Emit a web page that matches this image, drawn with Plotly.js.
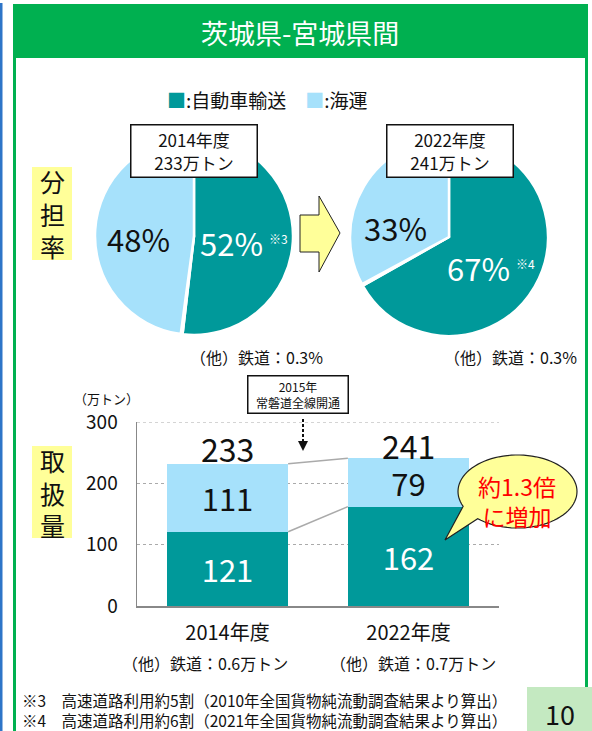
<!DOCTYPE html>
<html>
<head>
<meta charset="utf-8">
<script src="https://cdn.plot.ly/plotly-3.0.1.min.js"></script>
<style>
  body { margin: 0; background: #fff; }
  #chart { width: 592px; height: 731px; }
</style>
</head>
<body>
<div id="chart"></div>
<script>
// data
const pieYears = ["2014年度", "2022年度"];
const pieTotals = [233, 241];              // 万トン
const pieLabels = ["自動車輸送", "鉄道", "海運"];
const pie2014 = [52, 0.3, 48];             // %
const pie2022 = [67, 0.3, 33];
const pieNotes = ["※3", "※4"];

const barYears = ["2014年度", "2022年度"];
const truckTons = [121, 162];
const seaTons = [111, 79];
const barTotals = [233, 241];
const railTons = [0.6, 0.7];
const yTicks = [0, 100, 200, 300];

const footnotes = [
  "※3　高速道路利用約5割（2010年全国貨物純流動調査結果より算出）",
  "※4　高速道路利用約6割（2021年全国貨物純流動調査結果より算出）"
];

const TEAL = "#00999a";
const SKY = "#a6e1fb";
const GREEN = "#00b050";
const FONT = "Noto Sans CJK JP";

// pixel -> paper helpers
const W = 592, H = 731;
const px = x => x / W;
const py = y => 1 - y / H;
function poly(pts) {
  return "M" + pts.map(p => px(p[0]) + "," + py(p[1])).join(" L") + " Z";
}

function generateChart() {
  const pieCommon = {
    type: "pie",
    labels: pieLabels,
    sort: false,
    direction: "clockwise",
    rotation: 0,
    textinfo: "none",
    hoverinfo: "none",
    showlegend: false,
    marker: { colors: [TEAL, "#ffffff", SKY], line: { color: "#ffffff", width: 2.5 } }
  };

  const pieA = Object.assign({}, pieCommon, {
    values: pie2014,
    domain: { x: [px(95), px(293)], y: [py(335), py(137)] }
  });
  const pieB = Object.assign({}, pieCommon, {
    values: pie2022,
    domain: { x: [px(350), px(548)], y: [py(336), py(138)] }
  });

  const barText = {
    textposition: "inside",
    insidetextanchor: "middle",
    constraintext: "none",
    textangle: 0,
    hoverinfo: "none",
    showlegend: false
  };
  const truck = Object.assign({
    type: "bar",
    x: barYears,
    y: truckTons,
    marker: { color: TEAL },
    text: truckTons.map(String),
    textfont: { family: FONT, size: 31, color: "#ffffff" }
  }, barText);
  const sea = Object.assign({
    type: "bar",
    x: barYears,
    y: seaTons,
    marker: { color: SKY },
    text: seaTons.map(String),
    textfont: { family: FONT, size: 31, color: "#111111" }
  }, barText);

  // bar edges for connector lines (bargap 0.33 -> half width 0.335)
  const half = 0.335;
  const shapes = [
    // left blue strip
    { type: "rect", xref: "paper", yref: "paper", x0: px(0), x1: px(2.5), y0: py(731), y1: py(3),
      fillcolor: "#2e75c8", line: { width: 0 }, layer: "below" },
    // green header
    { type: "rect", xref: "paper", yref: "paper", x0: px(13), x1: px(588), y0: py(58), y1: py(4),
      fillcolor: GREEN, line: { width: 0 }, layer: "below" },
    // frame sides
    { type: "rect", xref: "paper", yref: "paper", x0: px(13), x1: px(16), y0: py(731), y1: py(58),
      fillcolor: GREEN, line: { width: 0 }, layer: "below" },
    { type: "rect", xref: "paper", yref: "paper", x0: px(585), x1: px(588), y0: py(687), y1: py(58),
      fillcolor: GREEN, line: { width: 0 }, layer: "below" },
    // page number box
    { type: "rect", xref: "paper", yref: "paper", x0: px(527), x1: px(592), y0: py(731), y1: py(687),
      fillcolor: "#c4e9c1", line: { width: 0 }, layer: "below" },
    // yellow side labels
    { type: "rect", xref: "paper", yref: "paper", x0: px(32), x1: px(72), y0: py(260), y1: py(167),
      fillcolor: "#ffff99", line: { width: 0 }, layer: "below" },
    { type: "rect", xref: "paper", yref: "paper", x0: px(32), x1: px(72), y0: py(538), y1: py(446),
      fillcolor: "#ffff99", line: { width: 0 }, layer: "below" },
    // block arrow between pies
    { type: "path", xref: "paper", yref: "paper",
      path: poly([[300, 215], [319, 215], [319, 196], [340, 233], [319, 272], [319, 252], [300, 252]]),
      fillcolor: "#ffff99", line: { color: "#222", width: 1 } },
    // top grid line at 300
    { type: "line", xref: "x", yref: "y", x0: -0.5, x1: 1.5, y0: yTicks[3], y1: yTicks[3],
      line: { color: "#aaaaaa", width: 1, dash: "dot" }, layer: "below" },
    // connector lines between bars
    { type: "line", xref: "x", yref: "y", x0: 0 + half, x1: 1 - half,
      y0: truckTons[0] + seaTons[0], y1: truckTons[1] + seaTons[1], line: { color: "#aaaaaa", width: 1.5 } },
    { type: "line", xref: "x", yref: "y", x0: 0 + half, x1: 1 - half,
      y0: truckTons[0], y1: truckTons[1], line: { color: "#aaaaaa", width: 1.5 } },
    // dashed arrow under the 2015 note
    { type: "line", xref: "paper", yref: "paper", x0: px(303), x1: px(303), y0: py(419), y1: py(442),
      line: { color: "#111", width: 2, dash: "3px,2px" } },
    { type: "path", xref: "paper", yref: "paper", path: poly([[298, 441], [308, 441], [303, 451]]),
      fillcolor: "#111", line: { width: 0 } }
  ];

  // speech bubble: ellipse with a tail
  const cx = 517.5, cy = 491.5, rx = 59.5, ry = 36.5;
  const bubble = [];
  for (let a = 156; a <= 360 + 133; a += 4) {
    const t = a * Math.PI / 180;
    bubble.push([cx + rx * Math.cos(t), cy + ry * Math.sin(t)]);
  }
  bubble.push([445, 540]);
  shapes.push({ type: "path", xref: "paper", yref: "paper", path: poly(bubble),
    fillcolor: "#ffff99", line: { color: "#222", width: 1.2 } });

  const txt = (x, y, text, size, color, extra) => Object.assign({
    xref: "paper", yref: "paper", x: px(x), y: py(y), text: text, showarrow: false,
    xanchor: "center", yanchor: "middle", font: { family: FONT, size: size, color: color || "#111" }
  }, extra || {});

  const total = (i, shift) => ({
    xref: "x", yref: "y", x: barYears[i], y: barTotals[i], yshift: shift, text: String(barTotals[i]),
    showarrow: false, xanchor: "center", yanchor: "middle",
    font: { family: FONT, size: 32, color: "#111" }
  });

  const annotations = [
    txt(300, 32, "茨城県-宮城県間", 27, "#ffffff"),
    txt(267, 100, "<span style='color:" + TEAL + "'>■</span>:" + pieLabels[0] + "　<span style='color:" + SKY + "'>■</span>:" + pieLabels[2], 19),
    // pie boxes
    txt(193.5, 151.5, pieYears[0] + "<br>" + pieTotals[0] + "万トン", 17, "#111",
      { bgcolor: "#ffffff", bordercolor: "#111", borderwidth: 1.5, width: 123, height: 49 }),
    txt(449.5, 151.5, pieYears[1] + "<br>" + pieTotals[1] + "万トン", 17, "#111",
      { bgcolor: "#ffffff", bordercolor: "#111", borderwidth: 1.5, width: 123, height: 49 }),
    // pie percentages
    txt(138, 238, pie2014[2] + "%", 31),
    txt(231, 242, pie2014[0] + "%", 31, "#ffffff"),
    txt(278, 238, pieNotes[0], 12, "#ffffff"),
    txt(395, 227, pie2022[2] + "%", 31),
    txt(478, 267, pie2022[0] + "%", 31, "#ffffff"),
    txt(525, 263, pieNotes[1], 12, "#ffffff"),
    txt(256, 357, "（他）鉄道：" + pie2014[1] + "%", 16),
    txt(510, 357, "（他）鉄道：" + pie2022[1] + "%", 16),
    // side labels
    txt(52, 213, "分<br>担<br>率", 25),
    txt(52, 492, "取<br>扱<br>量", 25),
    // bar totals, anchored to the data
    total(0, 15),
    total(1, 13),
    // bar chart extras
    txt(106, 398, "（万トン）", 13),
    txt(297.5, 394.5, "2015年<br>常磐道全線開通", 12, "#111",
      { bgcolor: "#ffffff", bordercolor: "#111", borderwidth: 1.5, width: 97, height: 34 }),
    txt(517, 501, "約1.3倍<br>に増加", 23, "#ff0000"),
    txt(205, 663, "（他）鉄道：" + railTons[0] + "万トン", 16),
    txt(413, 663, "（他）鉄道：" + railTons[1] + "万トン", 16),
    // footnotes and page number
    txt(20, 710, footnotes.join("<br>"), 15.5, "#111", { xanchor: "left", align: "left" }),
    txt(560, 713, "10", 27, "#111", { height: 30 })
  ];

  const layout = {
    width: W,
    height: H,
    margin: { l: 0, r: 0, t: 0, b: 0 },
    paper_bgcolor: "#ffffff",
    plot_bgcolor: "rgba(0,0,0,0)",
    barmode: "stack",
    bargap: 0.33,
    font: { family: FONT, color: "#111" },
    xaxis: {
      domain: [px(137), px(499)],
      range: [-0.5, 1.5],
      showline: true, linecolor: "#888", linewidth: 1.5,
      showgrid: false, zeroline: false,
      ticks: "", ticklabelstandoff: 8,
      tickfont: { family: FONT, size: 20, color: "#111" },
      fixedrange: true
    },
    yaxis: {
      domain: [py(606), py(422)],
      range: [0, 300],
      tickvals: yTicks,
      showline: true, linecolor: "#888", linewidth: 1.5,
      showgrid: true, gridcolor: "#aaaaaa", griddash: "dot", gridwidth: 1,
      zeroline: false,
      ticks: "", ticklabelstandoff: 14,
      tickfont: { family: FONT, size: 19, color: "#111" },
      fixedrange: true
    },
    shapes: shapes,
    annotations: annotations
  };

  Plotly.newPlot("chart", [pieA, pieB, truck, sea], layout, { displayModeBar: false, staticPlot: true });
}

generateChart();
</script>
</body>
</html>
